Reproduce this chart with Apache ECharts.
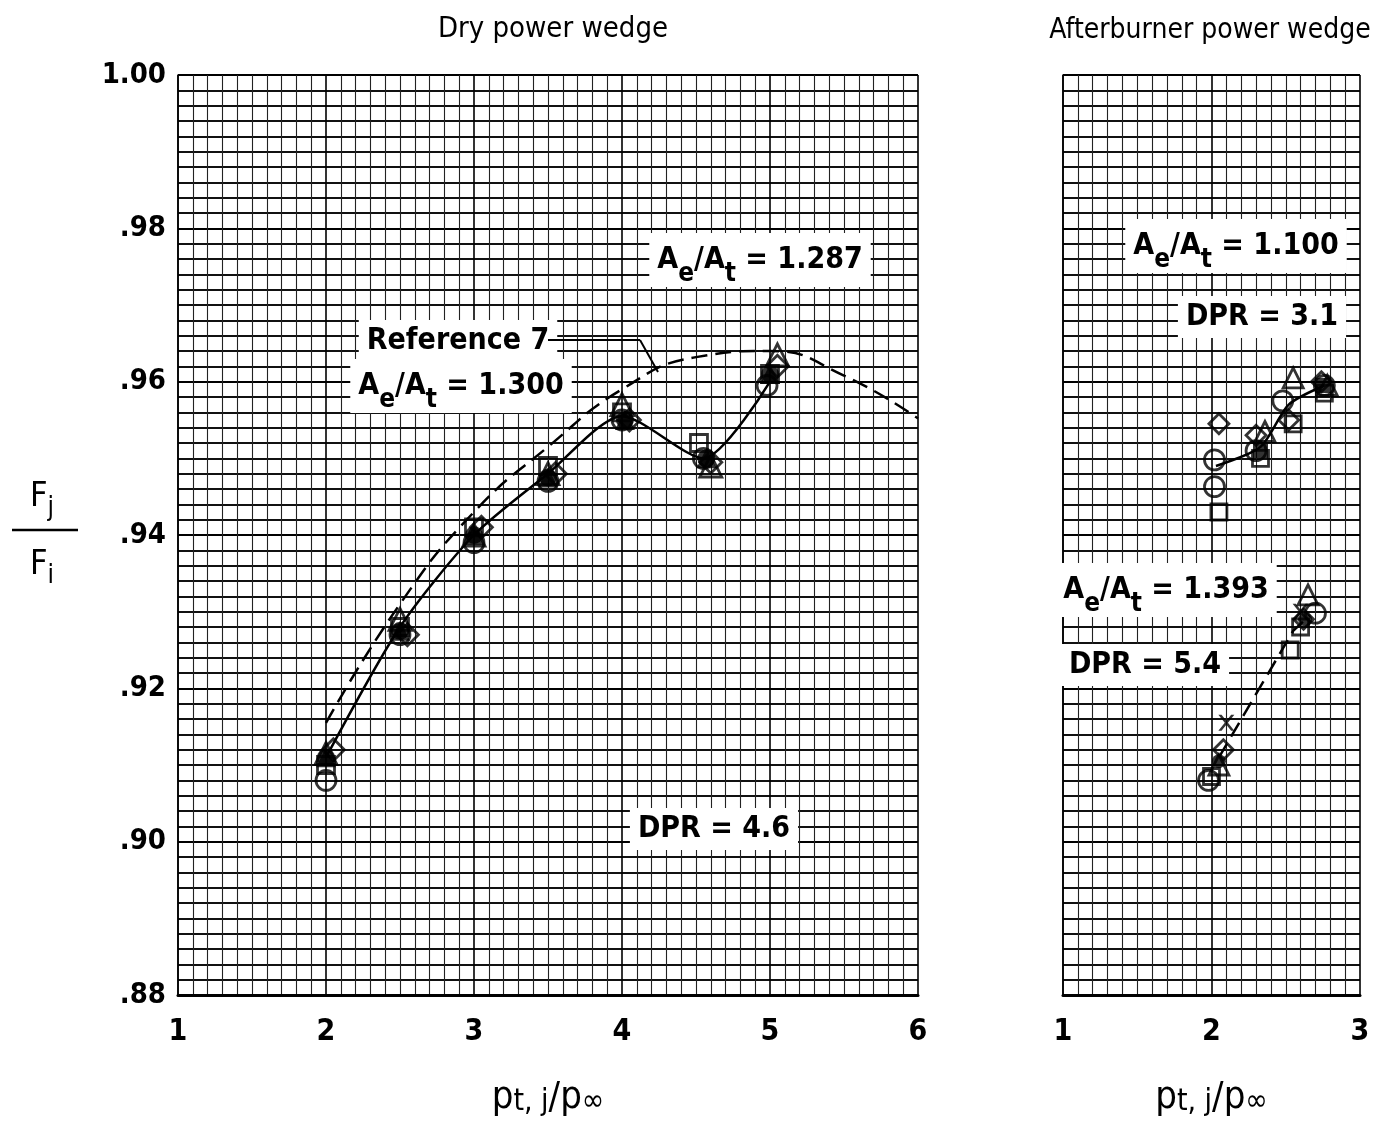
<!DOCTYPE html>
<html><head><meta charset="utf-8">
<script src="https://cdn.jsdelivr.net/npm/echarts@6/dist/echarts.min.js"></script>
<style>html,body{margin:0;padding:0;background:#fff}#c{width:1377px;height:1125px}</style>
</head><body><div id="c"></div>
<script>
const FONT = '"DejaVu Sans Condensed","DejaVu Sans",sans-serif';

// ---- tick labels ----
const yTickValues = [0.88, 0.90, 0.92, 0.94, 0.96, 0.98, 1.00];
const yTickLabels = ['.88', '.90', '.92', '.94', '.96', '.98', '1.00'];
const dryXTickLabels = ['1', '2', '3', '4', '5', '6'];
const abXTickLabels = ['1', '2', '3'];

// ---- Dry power wedge, Ae/At = 1.287, DPR = 4.6 ----
const dryCircle   = [[2.0,0.908],[2.5,0.927],[3.0,0.939],[3.5,0.947],[4.0,0.955],[4.55,0.950],[4.98,0.9595]];
const drySquare   = [[2.0,0.910],[2.5,0.928],[3.0,0.941],[3.5,0.949],[4.0,0.956],[4.52,0.952],[5.0,0.961]];
const dryDiamond  = [[2.05,0.912],[2.55,0.927],[3.05,0.941],[3.55,0.948],[4.05,0.955],[4.6,0.9495],[5.05,0.962]];
const dryTriangle = [[2.0,0.9115],[2.5,0.929],[3.0,0.940],[3.5,0.948],[4.0,0.957],[4.6,0.949],[5.05,0.9635]];
const dryFilled   = [[2.0,0.911],[2.5,0.9275],[3.0,0.940],[3.5,0.9475],[4.02,0.955],[4.57,0.950],[5.0,0.961]];
const dryFairing  = [[2.0,0.911],[2.5,0.928],[3.0,0.940],[3.5,0.948],[4.0,0.9555],[4.55,0.950],[5.0,0.960]];
const ref7Curve   = [[2.0,0.9155],[2.5,0.931],[3.0,0.943],[3.5,0.9515],[4.0,0.959],[4.5,0.9632],[5.0,0.964],[5.5,0.9608],[6.0,0.9552]];

// ---- Afterburner power wedge, Ae/At = 1.100, DPR = 3.1 ----
const ab1Circle   = [[2.02,0.9498],[2.02,0.9463],[2.3,0.951],[2.48,0.9575],[2.76,0.9595]];
const ab1Square   = [[2.05,0.943],[2.33,0.950],[2.55,0.9545],[2.76,0.9585]];
const ab1Diamond  = [[2.05,0.9545],[2.3,0.953],[2.52,0.955],[2.74,0.960]];
const ab1Triangle = [[2.36,0.9535],[2.55,0.9605],[2.78,0.9595]];
const ab1Filled   = [[2.33,0.951],[2.75,0.9595]];
const ab1Fairing  = [[2.03,0.949],[2.33,0.9515],[2.52,0.957],[2.76,0.9595]];

// ---- Afterburner power wedge, Ae/At = 1.393, DPR = 5.4 ----
const ab2Circle   = [[1.98,0.908],[2.7,0.9298]];
const ab2Square   = [[2.0,0.9085],[2.53,0.925],[2.6,0.928]];
const ab2Diamond  = [[2.08,0.912],[2.62,0.929]];
const ab2Triangle = [[2.05,0.910],[2.65,0.9322]];
const ab2Cross    = [[2.1,0.9155],[2.6,0.930]];
const ab2Filled   = [[2.05,0.9105],[2.63,0.929]];
const ab2Fairing  = [[2.05,0.911],[2.55,0.9275],[2.66,0.9295]];

const chart = echarts.init(document.getElementById('c'));

function yLabel(v) {
  for (let i = 0; i < yTickValues.length; i++) if (Math.abs(yTickValues[i] - v) < 1e-6) return yTickLabels[i];
  return '';
}
const xNameRich = {
  p: {fontFamily: FONT, fontSize: 38, color: '#000'},
  s: {fontFamily: FONT, fontSize: 30, color: '#000', verticalAlign: 'bottom', lineHeight: 30}
};
function xAxisCfg(idx, max, labels) {
  return {
    type: 'value', gridIndex: idx, min: 1, max: max, interval: 1,
    axisLine: {show: true, onZero: false, lineStyle: {color: '#000', width: 3}},
    axisTick: {show: false},
    axisLabel: {margin: 22, fontFamily: FONT, fontSize: 30, fontWeight: 'bold', color: '#000',
      formatter: v => labels[Math.round(v) - 1] || ''},
    splitLine: {show: true, lineStyle: {color: '#000', width: 1.6}},
    minorTick: {show: false, splitNumber: 10},
    minorSplitLine: {show: true, lineStyle: {color: '#222', width: 1.1}},
    name: '{p|p}{s|t, j}{p|/p}{s|∞}', nameLocation: 'middle', nameGap: 84,
    nameTextStyle: {rich: xNameRich}
  };
}
function yAxisCfg(idx, showLabels) {
  return {
    type: 'value', gridIndex: idx, min: 0.88, max: 1.00, interval: 0.02,
    axisLine: {show: true, lineStyle: {color: '#000', width: 1.5}},
    axisTick: {show: false},
    axisLabel: {show: showLabels, margin: 12, fontFamily: FONT, fontSize: 29, fontWeight: 'bold', color: '#000', formatter: yLabel},
    splitLine: {show: true, lineStyle: {color: '#000', width: 2.2}},
    minorTick: {show: false, splitNumber: 10},
    minorSplitLine: {show: true, lineStyle: {color: '#111', width: 1.8}}
  };
}
const openStyle = {color: 'rgba(255,255,255,0)', borderColor: '#000', borderWidth: 2.8};
function scat(data, symbol, g, size, filled) {
  return {type: 'scatter', xAxisIndex: g, yAxisIndex: g, data: data, symbol: symbol, symbolSize: size,
    itemStyle: filled ? {color: '#000'} : openStyle, z: 5, silent: true};
}
function line(data, g, dashed, smooth) {
  return {type: 'line', xAxisIndex: g, yAxisIndex: g, data: data, symbol: 'none', smooth: smooth,
    lineStyle: {color: '#000', width: 2.5, type: dashed ? [16, 8] : 'solid'}, z: 4, silent: true};
}
const crossPath = 'path://M0,0L2,0L5,3L8,0L10,0L6,4L10,8L8,8L5,5L2,8L0,8L4,4Z';

const annoRich = {
  a: {fontFamily: FONT, fontSize: 30, fontWeight: 'bold', color: '#000', lineHeight: 54},
  s: {fontFamily: FONT, fontSize: 26, fontWeight: 'bold', color: '#000', verticalAlign: 'bottom', lineHeight: 26}
};
function anno(x, y, text, rich) {
  return {type: 'text', x: x, y: y, z: 50,
    style: {text: text, rich: rich || annoRich, align: 'center', verticalAlign: 'middle',
      backgroundColor: '#fff', padding: [0, 8, 0, 8], fill: '#000'}};
}
const plainRich = {a: {fontFamily: FONT, fontSize: 30, fontWeight: 'bold', color: '#000', lineHeight: 42}};
const fracRich = {
  a: {fontFamily: FONT, fontSize: 34, color: '#000', lineHeight: 48},
  s: {fontFamily: FONT, fontSize: 26, color: '#000', verticalAlign: 'bottom', lineHeight: 26}
};

chart.setOption({
  animation: false,
  backgroundColor: '#fff',
  title: [
    {text: 'Dry power wedge', left: 548, top: 10, textAlign: 'center',
      textStyle: {fontFamily: FONT, fontSize: 29, fontWeight: 'normal', color: '#000'}},
    {text: 'Afterburner power wedge', left: 1205, top: 12, textAlign: 'center',
      textStyle: {fontFamily: FONT, fontSize: 28, fontWeight: 'normal', color: '#000'}}
  ],
  grid: [
    {left: 178, right: 459, top: 75, bottom: 130},
    {left: 1063, right: 17, top: 75, bottom: 130}
  ],
  xAxis: [xAxisCfg(0, 6, dryXTickLabels), xAxisCfg(1, 3, abXTickLabels)],
  yAxis: [yAxisCfg(0, true), yAxisCfg(1, false)],
  series: [
    line(ref7Curve, 0, true, true),
    line(dryFairing, 0, false, 0.25),
    scat(dryCircle, 'circle', 0, 20, false),
    scat(drySquare, 'rect', 0, 17, false),
    scat(dryDiamond, 'diamond', 0, 22, false),
    scat(dryTriangle, 'triangle', 0, 22, false),
    scat(dryFilled, 'circle', 0, 18, true),
    scat(dryFilled, 'triangle', 0, 20, true),

    line(ab1Fairing, 1, false, 0.25),
    scat(ab1Circle, 'circle', 1, 20, false),
    scat(ab1Square, 'rect', 1, 16, false),
    scat(ab1Diamond, 'diamond', 1, 20, false),
    scat(ab1Triangle, 'triangle', 1, 20, false),
    scat(ab1Filled, 'rect', 1, 15, true),

    line(ab2Fairing, 1, true, false),
    scat(ab2Circle, 'circle', 1, 20, false),
    scat(ab2Square, 'rect', 1, 16, false),
    scat(ab2Diamond, 'diamond', 1, 20, false),
    scat(ab2Triangle, 'triangle', 1, 20, false),
    scat(ab2Cross, crossPath, 1, 16, true),
    scat(ab2Filled, 'circle', 1, 14, true)
  ],
  graphic: [
    anno(760, 260, '{a|A}{s|e}{a|/A}{s|t}{a| = 1.287}'),
    anno(458, 341, '{a|Reference 7}', plainRich),
    anno(461, 386, '{a|A}{s|e}{a|/A}{s|t}{a| = 1.300}'),
    anno(714, 829, '{a|DPR = 4.6}', plainRich),
    anno(1236, 246, '{a|A}{s|e}{a|/A}{s|t}{a| = 1.100}'),
    anno(1262, 317, '{a|DPR = 3.1}', plainRich),
    anno(1166, 590, '{a|A}{s|e}{a|/A}{s|t}{a| = 1.393}'),
    anno(1145, 665, '{a|DPR = 5.4}', plainRich),
    {type: 'line', z: 51, shape: {x1: 548, y1: 340, x2: 640, y2: 340}, style: {stroke: '#000', lineWidth: 2}},
    {type: 'line', z: 51, shape: {x1: 640, y1: 340, x2: 658, y2: 372}, style: {stroke: '#000', lineWidth: 2}},
    {type: 'text', x: 42, y: 497, style: {text: '{a|F}{s|j}', rich: fracRich, align: 'center', verticalAlign: 'middle'}},
    {type: 'line', shape: {x1: 12, y1: 530, x2: 78, y2: 530}, style: {stroke: '#000', lineWidth: 2.5}},
    {type: 'text', x: 42, y: 565, style: {text: '{a|F}{s|i}', rich: fracRich, align: 'center', verticalAlign: 'middle'}}
  ]
});
</script></body></html>
